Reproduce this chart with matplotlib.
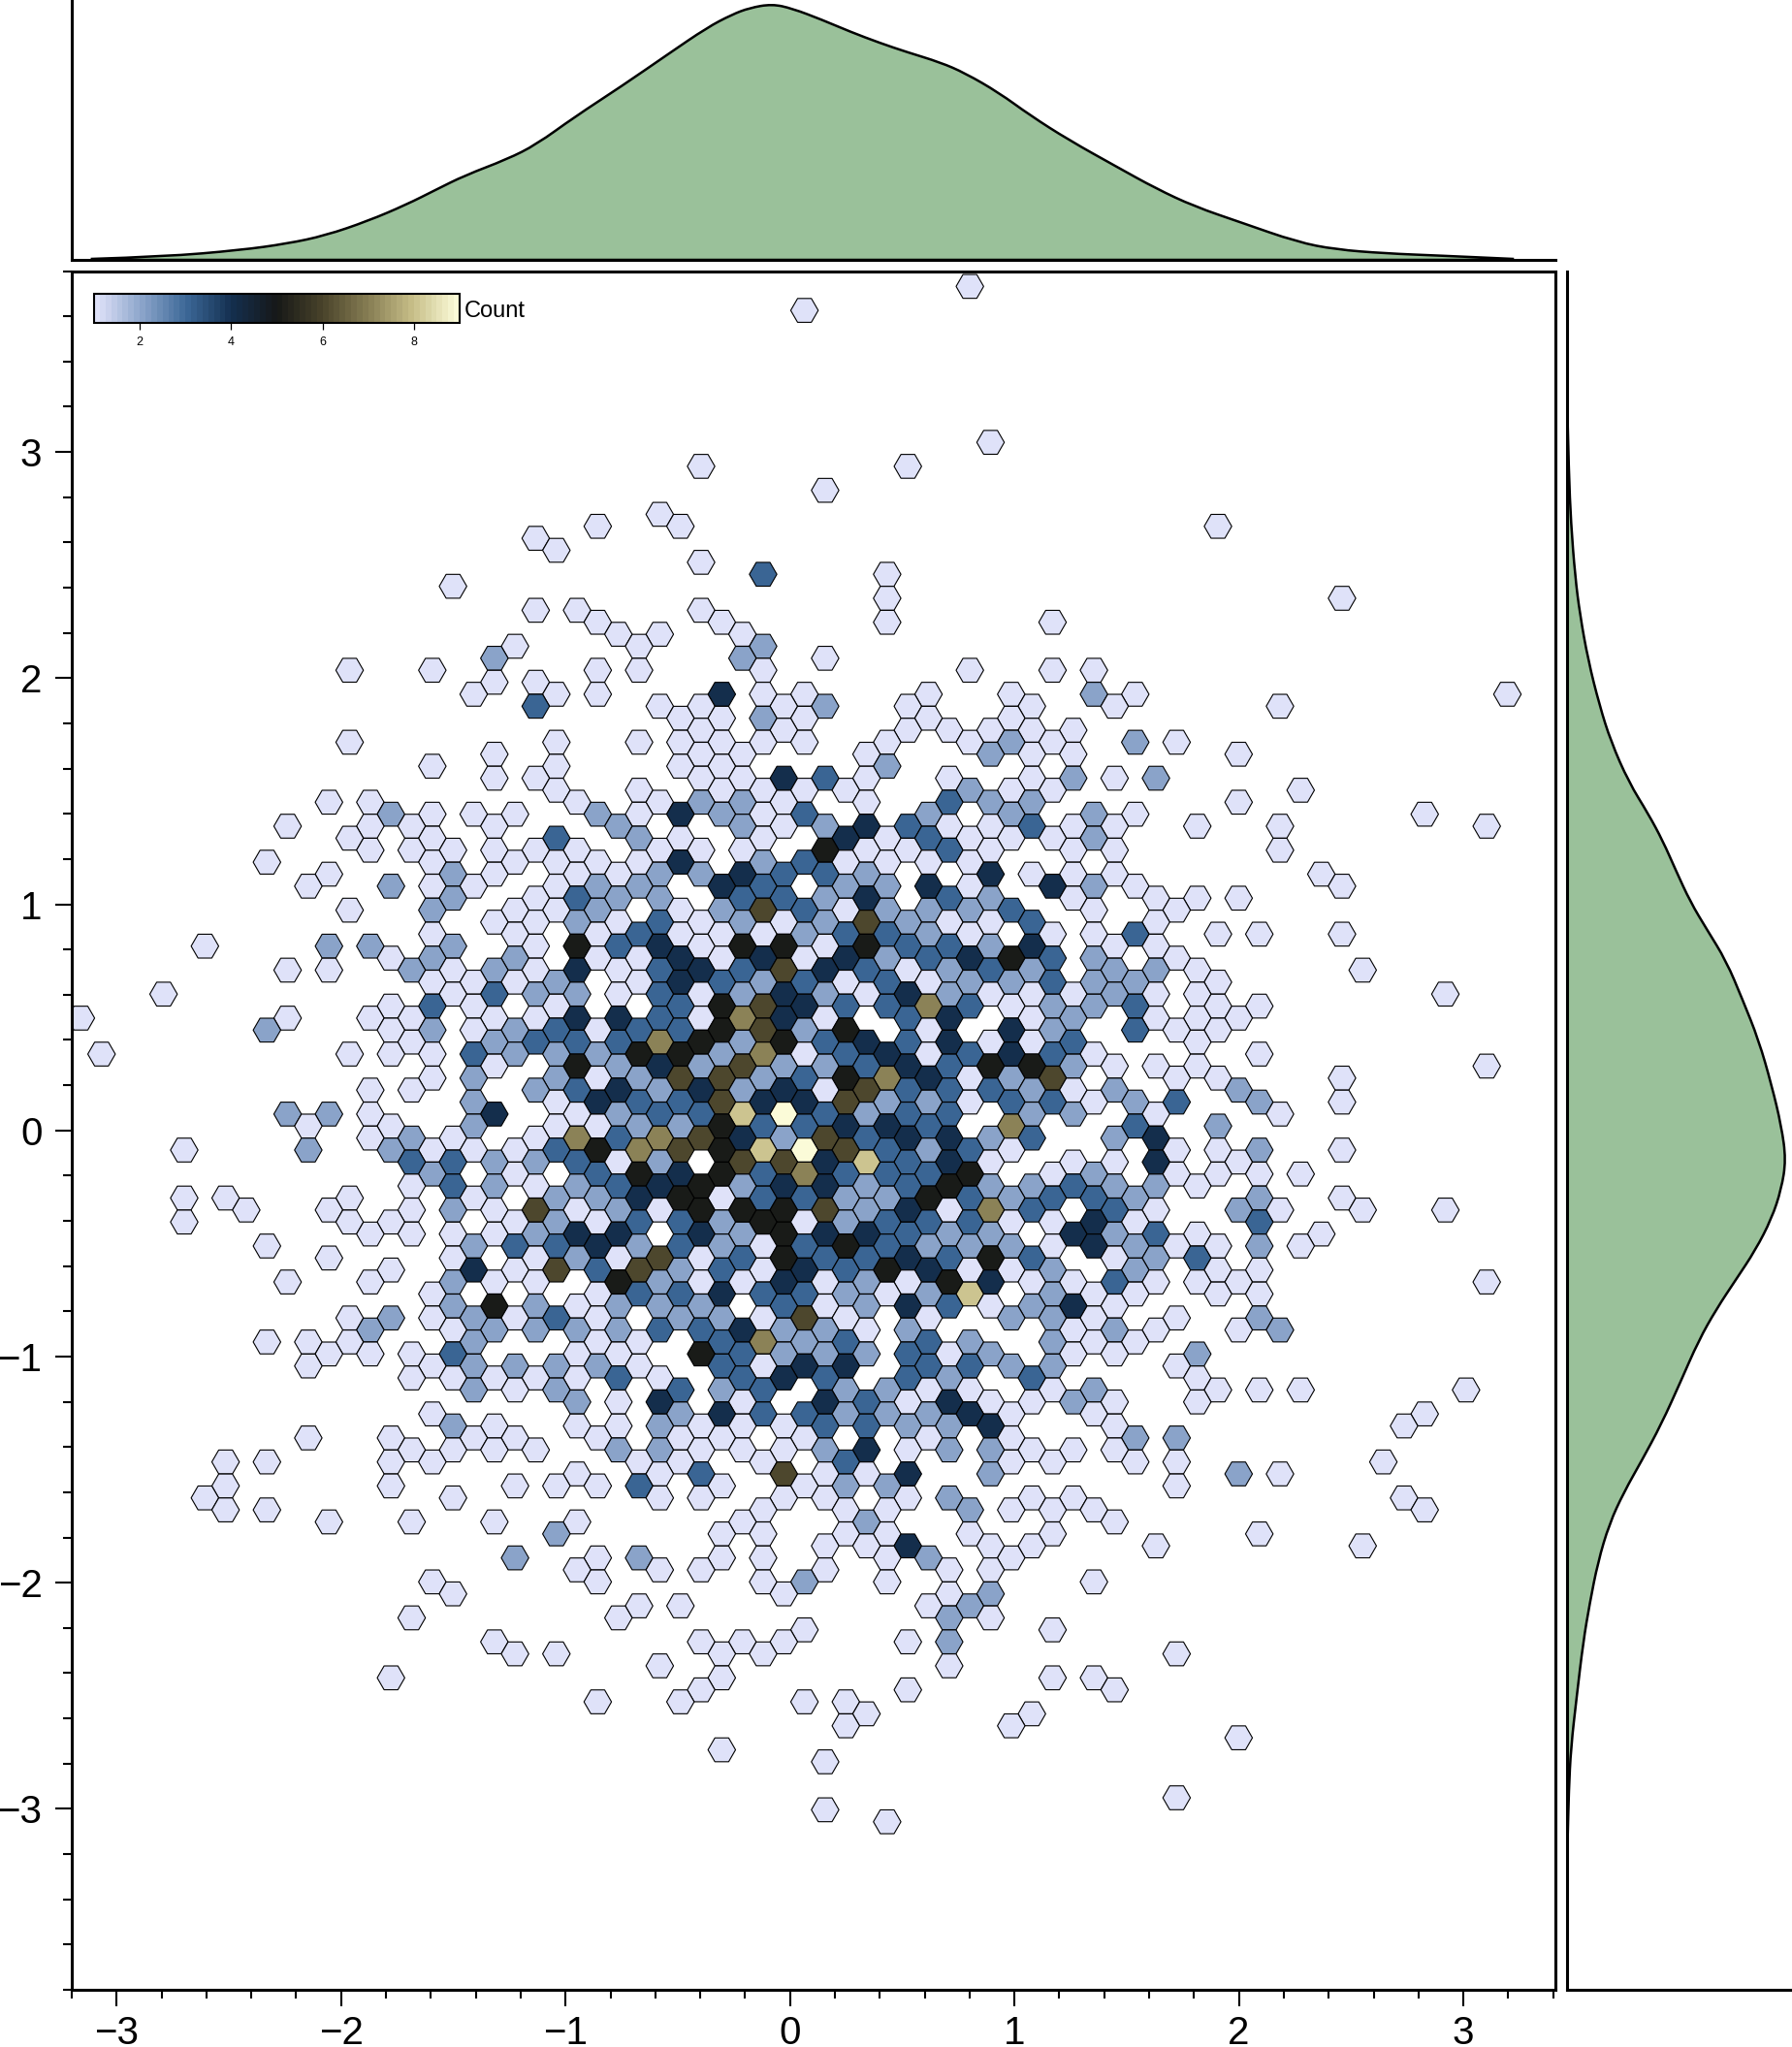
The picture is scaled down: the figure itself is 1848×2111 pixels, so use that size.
import numpy as np
import matplotlib.pyplot as plt
from matplotlib.colors import LinearSegmentedColormap, Normalize
from matplotlib.cm import ScalarMappable
from matplotlib.patches import PathPatch
from matplotlib.path import Path
from matplotlib.ticker import MultipleLocator

plt.rcParams['font.family'] = ['Liberation Sans', 'DejaVu Sans']

# Hex grid: row number -> "column" or "column:count" (count 1 when left out)
hex_cells = {
    0: "43", 2: "35", 13: "44", 15: "30 40", 17: "36", 19: "28", 20: "25 29 55",
    21: "22", 22: "23", 23: "30", 24: "33:3 39", 25: "18", 26: "39 61",
    27: "22 24 30", 28: "25 31 39 47", 29: "26 28 32", 30: "21 27 33:2",
    31: "20:2 32:2 36", 32: "13 17 25 27 33 43 47 49", 33: "20 22",
    34: "19 23 25 31:4 33 35 41 45 49:2 51 69",
    35: "22:3 28 30 34 36:2 40 46 50 58",
    36: "29 31 33:2 35 41 45",
    37: "30 34 40 42 44 46 48",
    38: "13 23 27 29 31 33 35 39 43 45:2 47 51:2 53",
    39: "20 30 32 38 44:2 46 48 56",
    40: "17 23 29 31 39:2",
    41: "20 22 30 32 34:4 36:3 38 42 46 48:2 50 52:2",
    42: "23 27 31 33 35 37 43:2 45 47 59",
    43: "12 14 24 28 30:2 32:2 34 38 42:3 44:2 46:2 56",
    44: "15:2 17 19 21 25:2 27 29:4 31:2 33 35:3 41:2 45:2 49:2 51 65",
    45: "10 14 16 20 26:2 32:2 34 36:2 38:4 40:3 42 44 46:3 48 50 54 58 68",
    46: "13 17 23:3 27:2 29 33 37:4 39 41:3 43 45 47 49:2",
    47: "14 16 18 20 22 24 28 30 32 36:5 38 40 42:3 44 48 50 58",
    48: "9 17 21 23 25 27 29:4 33:2 35:3 37 39 41 43",
    49: "12 18:2 20 24 26 28:2 30:2 32:4 34:3 36:3 38:2 44:4 46 48 50 60",
    50: "11 15:2 17 19 23 25:2 27:2 31:4 33:3 37:2 39:2 41:4 43 47:4 49:2 51 61",
    51: "18:2 22 24:3 26:2 28:2 32:3 34:3 36:2 38:4 42:3 44:2 48 52 54 56",
    52: "13 17:2 21 23 25:2 29 31:2 33:6 35:3 37 39:2 41:2 43:2 45:3 49 53",
    53: "20 22 24:2 26 28:3 30 32:2 34 36:2 38:6 40:2 42 44 46:3 52",
    54: "17 21 25 27:3 29 31 33 35:2 37:3 39:3 41:2 43 47 49 51:3 55 57 61",
    55: "6 12:2 14:2 18:2 22 24:5 26:3 28:4 30 32:5 34:5 36 38:5 40:3 42:3 44:2 46:4 50 52",
    56: "15 17:2 21:2 25 27 29:4 31 33:4 35 37:4 39:2 41:3 43:4 45:5 47:3 49:2 53",
    57: "10 12 16:2 18 20:2 22 24:4 26 28:3 30:4 32:3 34:6 36:4 38:3 40 42:2 44:3 46:2 50:2 52:2 54 62",
    58: "17 19 21 23:2 27 29:4 31:3 33:2 35:3 37 39:3 41 43:2 45:2 47:3 49:2 51:2 55",
    59: "4 18 20:3 22:2 24:2 26 28:3 30 32:2 34:4 36:2 38 40:4 42:2 44 46 48 50:2 52 54 66",
    60: "15 17:3 19 23 29:3 31:5 33:6 35:4 37:3 39:3 41:7 43:3 45 47:2 49:2 51:3 55 57",
    61: "0 10 14 16 20 22 24:4 26:4 28:3 30 32:7 34:4 36 40:3 42:4 46 48:2 52 54 56",
    62: "9:2 15 17:2 19 21:2 23:3 25 27:3 29:3 31:5 33:6 35:2 37:5 41 45:4 47:2 51:3 53 55",
    63: "16 20:2 22:3 24:3 26:3 28:7 30:5 32:2 34:5 36:3 38:4 40:3 42:4 44 46 48:3 54",
    64: "1 13 15 17 19:3 21:2 23:2 25:2 27:5 29:5 31:2 33:7 35 37:3 39:4 41 43:3 45:4 47:3 49 57",
    65: "20 24:5 26:2 28:4 30:2 32:6 34:2 36:2 38:3 40:4 42:3 44:5 46:5 48:2 50 52 54 68",
    66: "17 19:2 23:2 25 27:2 29:6 31:6 33:2 35:3 37:5 39:7 41:4 43 45:2 47:6 53 55 61",
    67: "14 16 22:2 24:3 26:4 28:2 30:4 32:2 34:4 36 38:6 40:3 42:3 44:3 46:2 48 50:2 56:2",
    68: "19:2 23 25:4 27:3 29:3 31:6 33:4 35:4 37:6 39:2 41:2 43 45:3 47:3 49 51:2 53:3 57:2 61",
    69: "10:2 12:2 14 20:4 24 26:2 28:3 30:3 32:8 34:9 36:3 38:2 40:3 42:3 46:2 48:2 52 58",
    70: "11 15 19:2 23 25 27:2 29:2 31:5 33:3 35:3 37:4 39:4 41:3 45:7 51:3 55:2",
    71: "14 16:2 18 22 24:7 26:3 28:7 30:6 32:4 34:2 36:6 38:3 40:4 42:4 44:2 46:3 50:2 52:4",
    72: "5 11:2 15:2 17 19 21 23:3 25:5 27:7 29:6 31:5 33:8 35:9 37:6 39:3 41:2 43:3 45 53 55 57:2 61",
    73: "16:3 18:3 20:2 22:2 24:3 26 28:2 32:6 34:6 36:4 38:8 40:3 42:4 44 48 50 52:4 56",
    74: "17:2 21 25:3 27:5 29:4 31:5 33:3 35:7 37:3 39:3 41:3 43:5 47 49:2 53 55 57 59",
    75: "16 18:3 20:2 22 24:2 26:3 28:4 30:5 32:2 34:4 36:4 38:2 40:3 42:5 44:2 46:2 48:3 50:2 52:2 54",
    76: "5 7 13 19 23:2 25:2 27:4 29:5 31 33:3 35:3 37:2 39:2 41:5 43:3 45:2 47:3 49:3 51:2 57:2 61",
    77: "8 12 16 18:2 20 22:6 24 26:2 28 30:5 32:5 34:5 36:6 38:2 40:4 42 44:7 46:3 50:3 52 56:2 58 62 66",
    78: "5 13 15 21 23:2 25 27:3 29:3 31:2 33:5 35 37:2 39:3 41:3 43:3 45 47 49:4 51 57:3",
    79: "14 16 18 20 22:2 24:4 26:4 30:4 32:2 34:5 36:4 38:4 40:3 42:2 44:2 48:4 50:2 52:3 54 60",
    80: "9 19:2 21:3 23:3 25:4 27:2 29:3 31:2 33 35:3 37:5 39:3 41:2 43:2 45:2 47 49:4 51:2 53 55 57:2 59",
    81: "12 18 22 24:2 26 28:6 30 32:3 34:5 36:3 38:3 40:4 42:3 44:5 46:3 50 52:2 54:3",
    82: "15 19:4 21 23:6 25:3 27:6 29:2 31:3 33 35:4 37:3 39:5 41:4 43 45 47:2 51:2 55 57",
    83: "10 14 18:2 20 22 26:5 28:2 30 32 34:4 36 38:2 40 42:5 44:4 46 48 50:3 52 54 56 68",
    84: "17 25 27:3 29:3 31:4 33:3 35:3 37:2 39 41:2 43:8 47:2 49 51 55 57",
    85: "18:2 20:5 22:2 24 26:2 28:2 30:2 34:3 36 38:2 40:4 42:3 44 46:2 48:4 50",
    86: "13 15:2 17 19:2 21 23:3 25 29:2 31:2 33 35:6 37 41 45:2 47:2 49 53 57:2",
    87: "14:2 18 20:2 22:2 24:2 26:2 28:3 30:3 32:4 34:2 36:2 38 40:2 48 50:2 52 56 58:2",
    88: "9 11 13 19:2 25 27 31:3 33:7 35:2 37:3 41:3 43:2 47:2 49 51",
    89: "12 14 16 18:3 24 26 30:5 32:3 34:2 36:2 38:2 40:3 42 44:2 48 50 54:2",
    90: "11 17 19:2 21:2 23:2 25:2 27 31:3 33 35:4 37:4 41:3 43:3 45:2 47:2 53",
    91: "16 18 20 22 24 26:3 28 32:3 34:4 36:3 40:3 42:2 46:3 54",
    92: "19:2 21 23:2 29:3 31:2 33:3 37:2 39:2 41 43 47 49:2 55 57 59 67",
    93: "24:2 26 28:4 32 36:4 38:3 40 42:4 44 46 48:2 50 54",
    94: "17 29:2 31:4 33:3 35:3 37:2 39:2 41:2 43:4 45 49 65",
    95: "18:2 20 24 26 28:2 30 32 34 36:3 38:3 40:2 42:2 44:4 50 64",
    96: "11 15 19 21 25 29 31 35 41 45 51:2 53:2",
    97: "16 18 20 22 26:2 28:2 30 32 34 36:2 38:4 40 42:2 44:2 46 48 50",
    98: "7 9 15 17 27 29 33 37:3 45 47 51 53 63",
    99: "24 28 30:3 34:6 36 38 40:4 44:2 56:2 58",
    100: "7 15 21 23 25 27:3 31 35 37:2 39:2 53",
    101: "6 18 28 30 34 36 40 42:2 46 48 64",
    102: "7 9 33 37 39 43:2 45 47 49 65",
    103: "12 16 20 24 32 38:2 50",
    104: "23:2 31 33 37 39 43 47 57",
    105: "36 38 40:4 44 46 52 62",
    106: "21:2 25 27:2 31 33 39 41:2 45",
    107: "24 28 30 36 42 44",
    108: "17 25 33 35:2 39 49",
    109: "18 34 42 44:2",
    110: "27 29 41 43:2",
    111: "16 26 42:2 44",
    112: "35 47",
    113: "20 30 32 34 40 42:2",
    114: "21 23 31 33 53",
    115: "28 42",
    116: "15 31 47 49",
    117: "30 40 50",
    118: "25 29 35 37",
    119: "38 46",
    120: "37 45",
    121: "56", 122: "31", 123: "36", 126: "53", 127: "36", 128: "39",
}

# Marginal densities
top_x = [-3.11, -2.79, -2.45, -2.24, -2.07, -1.88, -1.71, -1.58, -1.45, -1.26,
         -1.13, -0.96, -0.75, -0.54, -0.37, -0.26, -0.18, -0.08, 0.01, 0.14,
         0.27, 0.40, 0.52, 0.67, 0.78, 0.93, 1.07, 1.24, 1.46, 1.63, 1.80,
         2.01, 2.26, 2.43, 2.65, 2.90, 3.22]
top_d = [.0016, .0052, .0157, .0262, .0393, .0628, .089, .1126, .136, .1623,
         .186, .2304, .2801, .3325, .3744, .3953, .4063, .4125, .4053, .3875,
         .3676, .3498, .3351, .3184, .3011, .2697, .233, .1937, .1492, .1152,
         .0864, .0602, .0288, .0168, .0105, .0068, .0016]
right_y = [3.13, 2.91, 2.69, 2.45, 2.28, 2.08, 1.88, 1.72, 1.54, 1.40, 1.28,
           1.15, 1.01, 0.89, 0.75, 0.58, 0.40, 0.20, 0.02, -0.13, -0.26, -0.39,
           -0.53, -0.66, -0.79, -0.93, -1.11, -1.30, -1.46, -1.60, -1.74, -1.91,
           -2.09, -2.26, -2.50, -2.73, -2.92, -3.13]
right_d = [.0012, .0035, .0075, .0156, .025, .0406, .0625, .0844, .1188, .1563, .1844,
           .2094, .2375, .2688, .3063, .3375, .3688, .3938, .4125, .4215, .4125,
           .3938, .3625, .325, .2875, .2531, .2188, .1813, .1438, .1094, .0813,
           .0594, .0438, .0313, .0188, .0075, .0035, .0012]

count_colors = ['#DFE2F9', '#8BA4CA', '#3B6796', '#142F4F', '#161817',
                '#48422A', '#857C52', '#C6BD87', '#FBFBD8']
cbar_ticks = [2, 4, 6, 8]

W, H = 1848, 2111
GREEN = '#9AC19A'


def px_axes(fig, left, top, right, bottom):
    return fig.add_axes([left / W, 1 - bottom / H, (right - left) / W, (bottom - top) / H])


def density_patch(xs, ys, base_start, base_end):
    # closed shape with the read values as control points of a quadratic curve
    pts = np.column_stack([xs, ys])
    verts = [base_start, pts[0]]
    codes = [Path.MOVETO, Path.LINETO]
    for i in range(1, len(pts) - 1):
        verts += [pts[i], (pts[i] + pts[i + 1]) / 2]
        codes += [Path.CURVE3, Path.CURVE3]
    verts += [pts[-1], base_end, base_start]
    codes += [Path.LINETO, Path.LINETO, Path.CLOSEPOLY]
    return PathPatch(Path(verts, codes), facecolor=GREEN, edgecolor='black', lw=1.8)


# Grid spacing of the hexes in data units
x0, dx = -3.1594, 0.09211
y0, dy = 3.732, 0.05304
hx, hy, hc = [], [], []
for row, cells in hex_cells.items():
    for cell in cells.split():
        col, _, n = cell.partition(':')
        hx.append(x0 + int(col) * dx)
        hy.append(y0 - row * dy)
        hc.append(int(n) if n else 1)

cmap = LinearSegmentedColormap.from_list('count', count_colors, N=64)
norm = Normalize(1, 9)

fig = plt.figure(figsize=(W / 100, H / 100), dpi=100)

# Main panel
ax = px_axes(fig, 74, 279.5, 1604, 2052)
ax.scatter(hx, hy, c=hc, cmap=cmap, norm=norm, marker='H', s=418,
           edgecolors='black', linewidths=0.8, zorder=2)
ax.set_xlim(-3.2, 3.41)
ax.set_ylim(-3.8, 3.8)
ax.xaxis.set_major_locator(MultipleLocator(1))
ax.yaxis.set_major_locator(MultipleLocator(1))
ax.xaxis.set_minor_locator(MultipleLocator(0.2))
ax.yaxis.set_minor_locator(MultipleLocator(0.2))
ax.tick_params(which='major', length=12, width=1.5, labelsize=29)
ax.tick_params(which='minor', length=6.5, width=1.5)
ax.tick_params(axis='x', which='major', pad=6.5)
ax.tick_params(axis='y', which='major', pad=10)
for s in ax.spines.values():
    s.set_linewidth(2.2)
    s.set_zorder(5)

# Top marginal
ax_top = px_axes(fig, 74, 0, 1604, 268)
ax_top.add_patch(density_patch(top_x, top_d, (top_x[0], 0), (top_x[-1], 0)))
ax_top.set_xlim(-3.2, 3.41)
ax_top.set_ylim(0, 0.419)
ax_top.set_xticks([])
ax_top.set_yticks([])
ax_top.spines[['top', 'right']].set_visible(False)
ax_top.spines[['left', 'bottom']].set_linewidth(2.2)

# Right marginal
ax_right = px_axes(fig, 1616, 279.5, 1848, 2052)
ax_right.add_patch(density_patch(right_d, right_y, (0, right_y[0]), (0, right_y[-1])))
ax_right.set_xlim(0, 0.433)
ax_right.set_ylim(-3.8, 3.8)
ax_right.set_xticks([])
ax_right.set_yticks([])
ax_right.spines[['top', 'right']].set_visible(False)
ax_right.spines[['left', 'bottom']].set_linewidth(2.2)

# Colorbar inside the main panel
cax = px_axes(fig, 97, 303, 474, 332.5)
cb = fig.colorbar(ScalarMappable(norm=norm, cmap=cmap), cax=cax, orientation='horizontal')
cb.set_ticks(cbar_ticks)
cb.minorticks_off()
cb.ax.tick_params(length=5, width=0.9, labelsize=9, pad=5.5)
cb.outline.set_linewidth(1.5)
fig.text(479 / W, 1 - 321 / H, 'Count', fontsize=17, ha='left', va='center')

fig.savefig('out.png', dpi=100)
